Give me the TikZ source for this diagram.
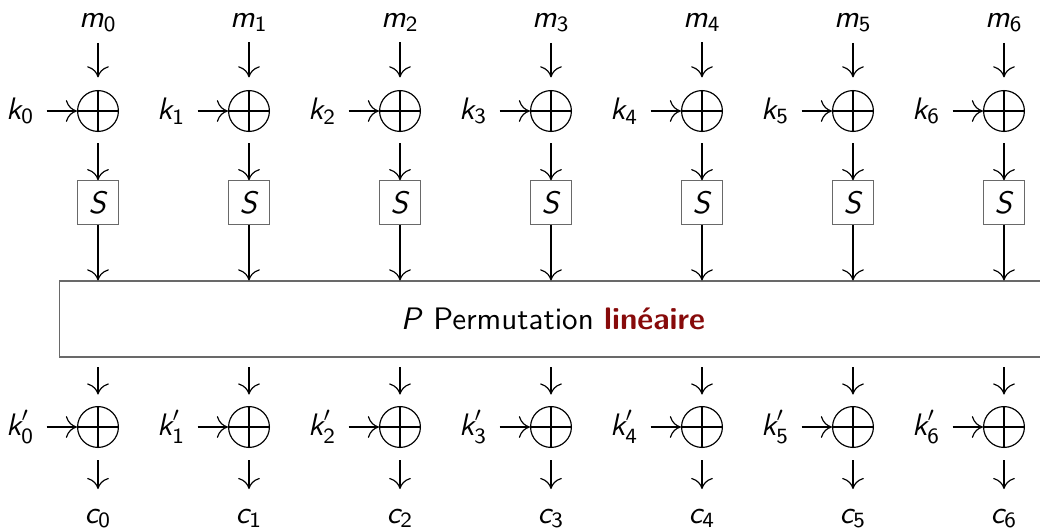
\documentclass[tikz,border=0pt]{standalone}
\usepackage{fontspec}
\usepackage{amstext}
\usepackage{tikz}
\usetikzlibrary{arrows.meta}
\newcommand{\sfvar}[2]{\textit{#1}_{\textup{#2}}}
\definecolor{alertR}{RGB}{135,10,10}
\definecolor{frameG}{RGB}{105,105,105}

\begin{document}
\begin{tikzpicture}[x=0.012cm, y=-0.012cm, font=\sffamily\fontsize{10.6pt}{12.7pt}\selectfont,
  >={To[length=3.8pt,width=7.4pt]},
  lbl/.style={inner sep=0pt},
  xorc/.style={circle, draw, inner sep=0pt, minimum size=4.9mm,
    path picture={\draw (path picture bounding box.north) -- (path picture bounding box.south)
      (path picture bounding box.west) -- (path picture bounding box.east);}},
  sbox/.style={rectangle, draw=frameG, inner sep=0pt, minimum width=4.9mm, minimum height=5.2mm}]
  \useasboundingbox (0,0) rectangle (1040,529);
  % permutation layer
  \node[rectangle, draw=frameG, minimum width=11.83cm, minimum height=9.1mm] (P) at (553,319)
    {\textit{P} Permutation \textcolor{alertR}{\textbf{linéaire}}};
  \foreach \i in {0,...,6} {
    \pgfmathsetmacro{\cx}{98+151*\i}
    \node[lbl, anchor=base] (m\i) at (\cx,27) {$\sfvar{m}{\i}$};
    \node[xorc] (x\i) at (\cx,111) {};
    \node[lbl, anchor=east] (k\i) at (\cx-63,111) {$\sfvar{k}{\i}$};
    \node[sbox] (s\i) at (\cx,202.5) {\textit{S}};
    \node[xorc] (y\i) at (\cx,427) {};
    \node[lbl, anchor=east] (kk\i) at (\cx-63,427) {$\textit{k}'_{\textup{\i}}$};
    \node[lbl, anchor=base] (c\i) at (\cx,523) {$\sfvar{c}{\i}$};
    \draw[->, shorten <=3.4pt, shorten >=4.3pt] (m\i) -- (x\i);
    \draw[->, shorten <=4pt] (k\i) -- (x\i);
    \draw[->, shorten <=3.9pt] (x\i) -- (s\i);
    \draw[->] (s\i) -- (s\i |- P.north);
    \draw[->, shorten <=3.4pt, shorten >=3.9pt] (P.south -| y\i) -- (y\i);
    \draw[->, shorten <=4pt] (kk\i) -- (y\i);
    \draw[->, shorten <=4.1pt, shorten >=6.5pt] (y\i) -- (c\i);
  }
\end{tikzpicture}
\end{document}
